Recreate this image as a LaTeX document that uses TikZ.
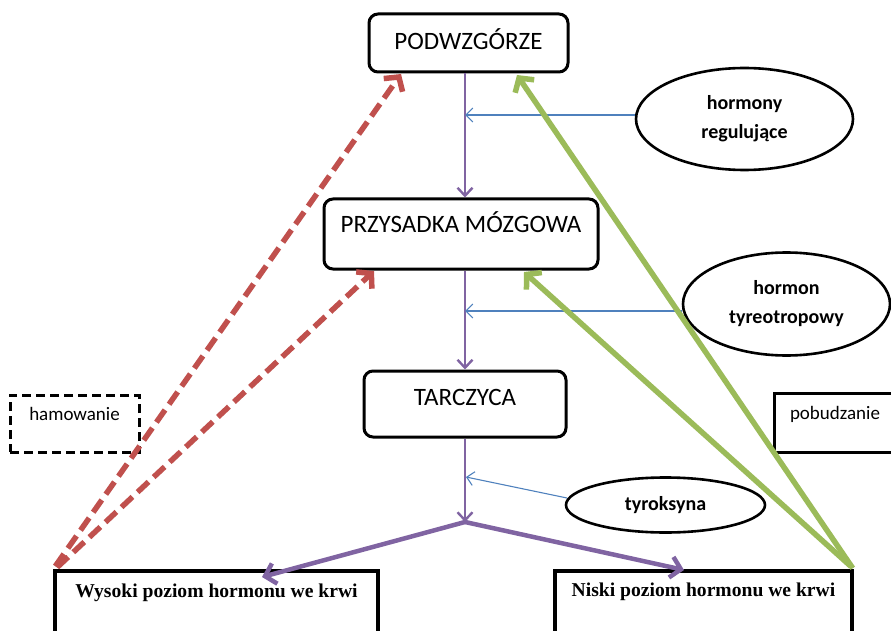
\documentclass[tikz,border=0pt]{standalone}
\usepackage{fontspec}
\setmainfont{Carlito}
\newfontfamily\timesf{Liberation Serif}
\usetikzlibrary{arrows.meta,shapes.geometric}
\definecolor{ored}{HTML}{C0504D}
\definecolor{ogreen}{HTML}{9BBB59}
\definecolor{opurple}{HTML}{8064A2}
\definecolor{oblue}{HTML}{4F81BD}
\tikzset{
  organ/.style={draw=black,line width=3pt,rounded corners=9pt,inner ysep=0pt,inner xsep=0pt,anchor=base,font=\fontsize{25}{30}\selectfont},
  labelbox/.style={draw=black,line width=3pt,inner ysep=0pt,inner xsep=0pt,anchor=base,font=\fontsize{19}{23}\selectfont},
  levelbox/.style={draw=black,line width=3.5pt,inner ysep=0pt,inner xsep=0pt,anchor=base,font=\timesf\bfseries\fontsize{19.6}{23}\selectfont},
  hormone/.style={draw=black,ellipse,line width=2.6pt,inner sep=0pt,align=center,font=\bfseries\fontsize{20}{29}\selectfont},
  flow/.style={opurple,line width=2.4pt,-{Straight Barb[length=8pt,width=15pt,line width=2.4pt]}},
  bigflow/.style={opurple,line width=4.5pt,-{Straight Barb[length=10pt,width=21pt,line width=4.5pt]}},
  signal/.style={oblue,line width=1.1pt,-{Straight Barb[length=7pt,width=14pt,line width=1.1pt]}},
  inhibit/.style={ored,line width=5.5pt,dash pattern=on 15pt off 7pt,-{Straight Barb[length=10pt,width=23pt,line width=5.5pt]}},
  excite/.style={ogreen,line width=5.5pt,-{Straight Barb[length=10pt,width=23pt,line width=5.5pt]}}
}
\begin{document}
\begin{tikzpicture}[x=1pt,y=-1pt]
\useasboundingbox (0,0) rectangle (891,631);
\clip (0,0) rectangle (891,631);
% boxes
\node[organ,minimum width=199pt,text height=36pt,text depth=22pt] (pod) at (468.5,50) {PODWZGÓRZE};
\node[organ,minimum width=274pt,text height=34pt,text depth=36pt] (prz) at (461,233) {PRZYSADKA MÓZGOWA};
\node[organ,minimum width=202pt,text height=34pt,text depth=32pt] (tar) at (465,405) {TARCZYCA};
\node[labelbox,dash pattern=on 9pt off 5pt,minimum width=129pt,text height=25pt,text depth=32pt] (ham) at (74.5,420) {hamowanie};
\node[labelbox,minimum width=130pt,text height=26pt,text depth=33pt,text width=130pt,align=left] (pob) at (839,419) {\hspace*{16pt}pobudzanie};
\node[levelbox,minimum width=323pt,text height=26pt,text depth=45pt] (wys) at (216.5,597) {Wysoki poziom hormonu we krwi};
\node[levelbox,minimum width=297pt,text height=25pt,text depth=46pt] (nis) at (703.5,596) {Niski poziom hormonu we krwi};
% ellipses
\node[hormone,minimum width=217pt,minimum height=102pt] (hreg) at (744.5,119) {hormony\\regulujące};
\node[hormone,minimum width=207pt,minimum height=103pt] (htyr) at (786.5,304) {hormon\\tyreotropowy};
\node[hormone,minimum width=199pt,minimum height=55pt] (tyro) at (665.5,505) {tyroksyna};
% coordinates
\coordinate (fork) at (465,522);
\coordinate (s1) at (465,115);
\coordinate (s2) at (465,311);
\coordinate (s3) at (466,477);
\coordinate (wystip) at (262,577);
\coordinate (nistip) at (684,570);
% purple flow
\draw[flow] (pod.south -| fork) -- (prz.north -| fork);
\draw[flow] (prz.south -| fork) -- (tar.north -| fork);
\draw[flow] (tar.south -| fork) -- (fork);
\draw[bigflow] (fork) -- (wystip);
\draw[bigflow] (fork) -- (nistip);
% blue signals
\draw[signal] (hreg.west |- s1) -- (s1);
\draw[signal] (htyr.west |- s2) -- (s2);
\draw[signal] (567,498) -- (s3);
% feedback
\draw[inhibit] (wys.north west) ++(2,-3) -- (401,74);
\draw[inhibit] (wys.north west) ++(4,-2) -- (374,271);
\draw[excite] (nis.north east) ++(-1,-1) -- (517,75);
\draw[excite] (nis.north east) ++(-3,-3) -- (524,272);
\end{tikzpicture}
\end{document}
